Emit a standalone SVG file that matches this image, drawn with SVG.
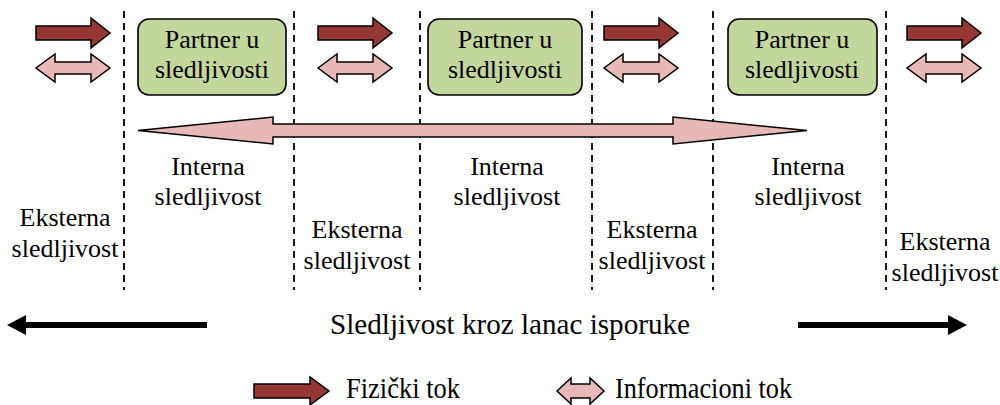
<svg xmlns="http://www.w3.org/2000/svg" xmlns:xlink="http://www.w3.org/1999/xlink" width="1000" height="405" viewBox="0 0 1000 405">
<style>
text{font-family:'Liberation Serif','Times New Roman',serif;fill:#000}
.t{font-size:26px;text-anchor:middle}
.tl{font-size:30px}
.dash{stroke:#000;stroke-width:1.8;stroke-dasharray:7 5;fill:none}
.box{fill:#c3d69b;stroke:#000;stroke-width:1.6}
.phys{fill:#953735;stroke:#000;stroke-width:1.5;stroke-linejoin:miter}
.info{fill:#e6b9b8;stroke:#000;stroke-width:1.5;stroke-linejoin:miter}
</style>
<defs>
<path id="pa" d="M0,-7 H55 V-15 L74,0 L55,15 V7 H0 Z"/>
<path id="ia" d="M0,0 L19,-14 V-6 H55 V-14 L74,0 L55,14 V6 H19 V14 Z"/>
</defs>
<rect width="1000" height="405" fill="#fff"/>
<g id="dividers">
<line class="dash" x1="124" y1="11" x2="124" y2="290"/>
<line class="dash" x1="294" y1="11" x2="294" y2="290"/>
<line class="dash" x1="420" y1="11" x2="420" y2="290"/>
<line class="dash" x1="592" y1="11" x2="592" y2="290"/>
<line class="dash" x1="713" y1="11" x2="713" y2="290"/>
<line class="dash" x1="886" y1="11" x2="886" y2="290"/>
</g>
<g id="partner1">
<rect class="box" x="138" y="19" width="148" height="76" rx="11"/>
<text class="t" x="212" y="48">Partner u</text>
<text class="t" x="212" y="78">sledljivosti</text>
</g>
<g id="partner2">
<rect class="box" x="428" y="19" width="154" height="76" rx="11"/>
<text class="t" x="505" y="48">Partner u</text>
<text class="t" x="505" y="78">sledljivosti</text>
</g>
<g id="partner3">
<rect class="box" x="728" y="19" width="149" height="76" rx="11"/>
<text class="t" x="802" y="48">Partner u</text>
<text class="t" x="802" y="78">sledljivosti</text>
</g>
<g id="connectors">
<use xlink:href="#pa" class="phys" x="36" y="33"/>
<use xlink:href="#ia" class="info" x="36" y="68"/>
<use xlink:href="#pa" class="phys" x="318" y="33"/>
<use xlink:href="#ia" class="info" x="318" y="68"/>
<use xlink:href="#pa" class="phys" x="604" y="33"/>
<use xlink:href="#ia" class="info" x="604" y="68"/>
<use xlink:href="#pa" class="phys" x="907" y="33"/>
<use xlink:href="#ia" class="info" x="907" y="68"/>
<path class="info" d="M138,130.5 L273,117 V124 H673 V117 L807,130.5 L673,144 V137 H273 V144 Z"/>
<path d="M207,322 H26 V315 L7,325 L26,335 V328 H207 Z" fill="#000"/>
<path d="M798,322 H948 V315 L967,325 L948,335 V328 H798 Z" fill="#000"/>
</g>
<g id="labels">
<text class="t" x="208" y="175">Interna</text>
<text class="t" x="208" y="205">sledljivost</text>
<text class="t" x="507" y="175">Interna</text>
<text class="t" x="507" y="205">sledljivost</text>
<text class="t" x="808" y="175">Interna</text>
<text class="t" x="808" y="205">sledljivost</text>
<text class="t" x="65" y="226">Eksterna</text>
<text class="t" x="65" y="257">sledljivost</text>
<text class="t" x="357" y="238">Eksterna</text>
<text class="t" x="357" y="269">sledljivost</text>
<text class="t" x="652" y="238">Eksterna</text>
<text class="t" x="652" y="269">sledljivost</text>
<text class="t" x="945" y="250">Eksterna</text>
<text class="t" x="945" y="281">sledljivost</text>
<text class="tl" x="330" y="334" textLength="360" lengthAdjust="spacingAndGlyphs">Sledljivost kroz lanac isporuke</text>
</g>
<g id="legend">
<path class="phys" d="M254,384 H310 V377 L329,391 L310,405 V398 H254 Z"/>
<text class="tl" x="346" y="398" textLength="114" lengthAdjust="spacingAndGlyphs">Fizički tok</text>
<path class="info" d="M557,391 L571,378 V384 H590 V378 L604,391 L590,404 V398 H571 V404 Z"/>
<text class="tl" x="615" y="398" textLength="177" lengthAdjust="spacingAndGlyphs">Informacioni tok</text>
</g>
</svg>
